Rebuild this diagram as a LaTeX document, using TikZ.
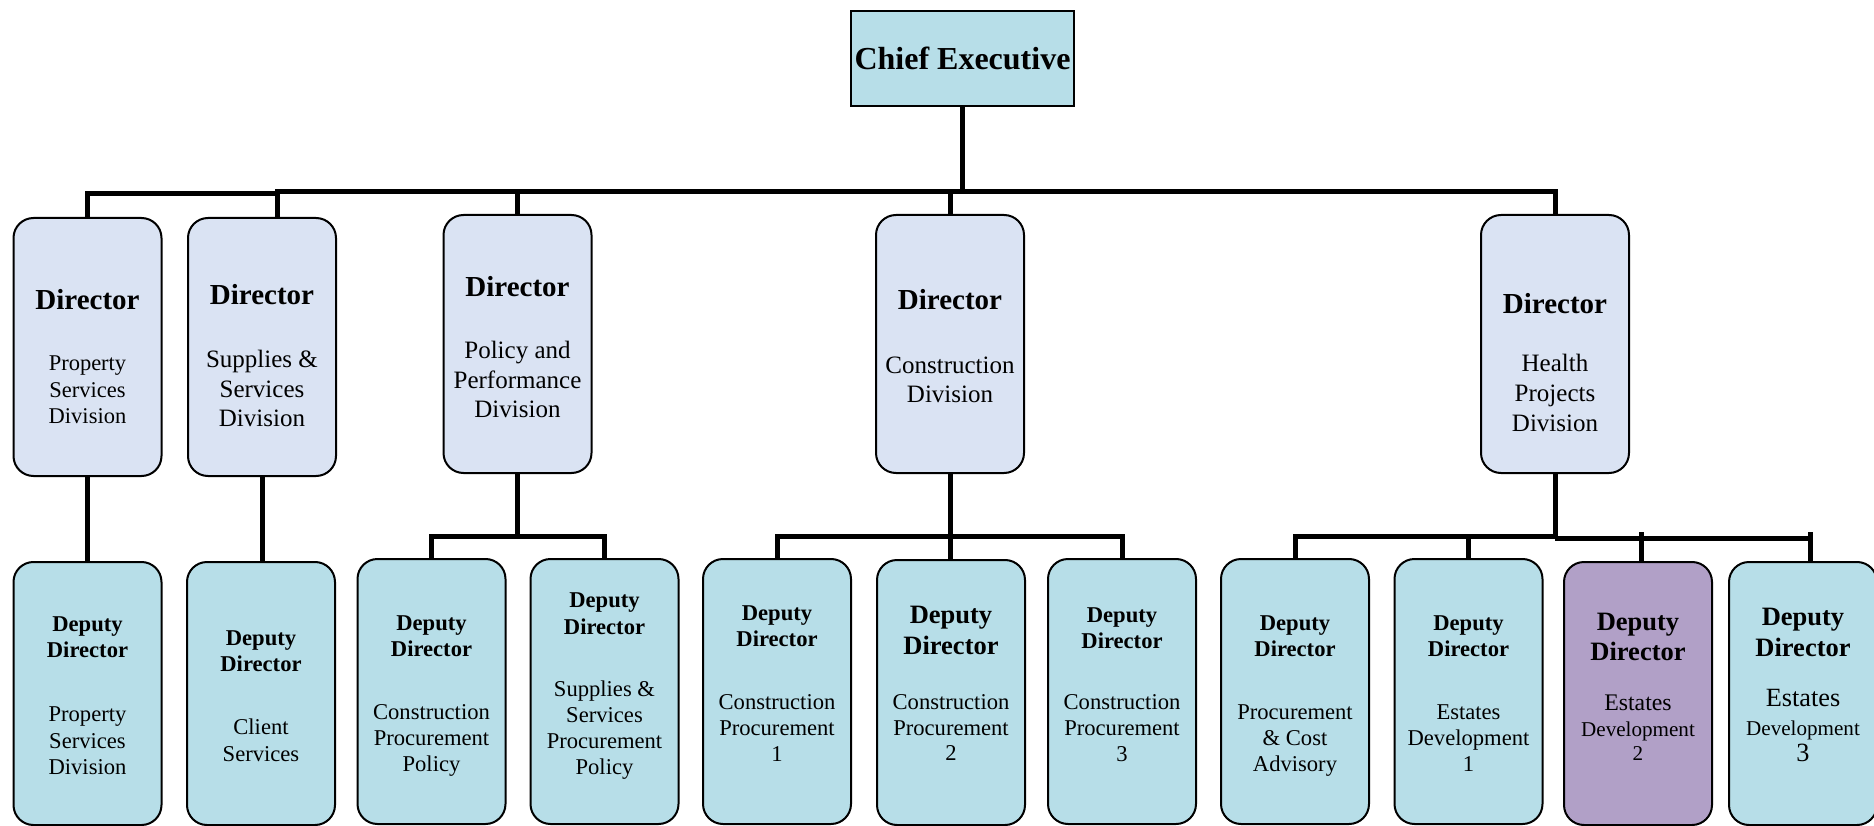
\documentclass[tikz,border=0pt]{standalone}
\usepackage{fontspec}
\setmainfont{Liberation Serif}
\definecolor{dirfill}{HTML}{DAE3F3}
\definecolor{depfill}{HTML}{B7DEE8}
\definecolor{purfill}{HTML}{B1A0C7}
\newcommand\fChief{\fontsize{32}{36}\selectfont\bfseries}
\newcommand\fDir{\fontsize{29}{33}\selectfont\bfseries}
\newcommand\fDiv{\fontsize{25}{29}\selectfont}
\newcommand\fDivS{\fontsize{22.5}{26}\selectfont}
\newcommand\fDep{\fontsize{22.6}{26}\selectfont\bfseries}
\newcommand\fDepB{\fontsize{26.5}{30}\selectfont\bfseries}
\newcommand\fSub{\fontsize{22.6}{26}\selectfont}
\newcommand\fSubE{\fontsize{23.8}{27}\selectfont}
\newcommand\fSubEB{\fontsize{26.3}{30}\selectfont}
\newcommand\fSubD{\fontsize{21.1}{25}\selectfont}
\newcommand\linesat[6]{\foreach \mytx [count=\myi] in {#6}{\node[lbl,font=#5] (#1-\myi) at (#2,{#3+(\myi-1)*#4}) {\mytx};}}
\newcommand\linesatT[6]{\foreach \mytx [count=\myi] in {#6}{\node[lblT,font=#5] (#1-\myi) at (#2,{#3+(\myi-1)*#4}) {\mytx};}}
\newcommand\oneline[5]{\node[lbl,font=#4] (#1) at (#2,#3) {#5};}
\tikzset{
  chiefbox/.style={draw=black, line width=2pt, fill=depfill, minimum width=223pt, minimum height=95pt, inner sep=0pt, font=\fChief},
  dirbox/.style={draw=black, line width=2pt, rounded corners=20pt, fill=dirfill, minimum width=148pt, minimum height=258pt, inner sep=0pt},
  depbox/.style={draw=black, line width=2pt, rounded corners=20pt, fill=depfill, minimum width=148pt, minimum height=264pt, inner sep=0pt},
  lbl/.style={inner sep=0pt, text height=0.5em, text depth=0pt, yshift=-6pt},
  lblT/.style={inner sep=0pt, text height=0.5em, text depth=0pt, yshift=-4pt},
  conn/.style={draw=black, line width=5pt, line join=miter}
}
\begin{document}
\begin{tikzpicture}[x=1pt,y=-1pt]
\useasboundingbox (0,0) rectangle (1874,826);
\fill[white] (0,0) rectangle (1874,826);
\clip (0,0) rectangle (1874,826);

% boxes
\node[chiefbox] (ce) at (962.5,58.5) {Chief Executive};

\node[dirbox] (dir1) at (87.5,347) {};
\node[dirbox] (dir2) at (262,347) {};
\node[dirbox] (dir3) at (517.5,344) {};
\node[dirbox] (dir4) at (950,344) {};
\node[dirbox] (dir5) at (1555,344) {};

\node[depbox,minimum height=263pt] (dep1) at (87.5,693.5) {};
\node[depbox,minimum height=263pt] (dep2) at (261,693.5) {};
\node[depbox,minimum height=265pt] (dep3) at (431.5,691.5) {};
\node[depbox,minimum height=265pt] (dep4) at (604.5,691.5) {};
\node[depbox,minimum height=265pt] (dep5) at (777,691.5) {};
\node[depbox,minimum height=265pt] (dep6) at (951,692.5) {};
\node[depbox,minimum height=265pt] (dep7) at (1122,691.5) {};
\node[depbox,minimum height=265pt] (dep8) at (1295,691.5) {};
\node[depbox,minimum height=265pt] (dep9) at (1468.5,691.5) {};
\node[depbox,minimum height=263pt,fill=purfill] (dep10) at (1638,693.5) {};
\node[depbox,minimum height=263pt] (dep11) at (1803,693.5) {};

% director texts
\oneline{t1}{87.5}{301}{\fDir}{Director}
\linesat{s1}{87.5}{362}{26.5}{\fDivS}{Property,Services,Division}
\oneline{t2}{262}{296}{\fDir}{Director}
\linesat{s2}{262}{359}{29.5}{\fDiv}{Supplies \&,Services,Division}
\oneline{t3}{517.5}{288}{\fDir}{Director}
\linesat{s3}{517.5}{350}{29.5}{\fDiv}{Policy and,Performance,Division}
\oneline{t4}{950}{301}{\fDir}{Director}
\linesat{s4}{950}{364.5}{29}{\fDiv}{Construction,Division}
\oneline{t5}{1555}{305}{\fDir}{Director}
\linesat{s5}{1555}{363}{30}{\fDiv}{Health,Projects,Division}

% deputy texts
\linesatT{u1}{87.5}{624.5}{26.5}{\fDep}{Deputy,Director}
\linesat{v1}{87.5}{713}{26.5}{\fSub}{Property,Services,Division}
\linesatT{u2}{261}{638.5}{26.5}{\fDep}{Deputy,Director}
\linesat{v2}{261}{726}{27}{\fSub}{Client,Services}
\linesatT{u3}{431.5}{623.5}{26.5}{\fDep}{Deputy,Director}
\linesat{v3}{431.5}{710.5}{26.3}{\fSub}{Construction,Procurement,Policy}
\linesatT{u4}{604.5}{601}{26.5}{\fDep}{Deputy,Director}
\linesat{v4}{604.5}{687.5}{26.2}{\fSub}{Supplies \&,Services,Procurement,Policy}
\linesatT{u5}{777}{613.5}{26.5}{\fDep}{Deputy,Director}
\linesat{v5}{777}{701}{26}{\fSub}{Construction,Procurement,1}
\linesatT{u6}{951}{617}{30.5}{\fDepB}{Deputy,Director}
\linesat{v6}{951}{701}{25.5}{\fSub}{Construction,Procurement,2}
\linesatT{u7}{1122}{615.5}{26.5}{\fDep}{Deputy,Director}
\linesat{v7}{1122}{700.5}{26}{\fSub}{Construction,Procurement,3}
\linesatT{u8}{1295}{623.5}{26.5}{\fDep}{Deputy,Director}
\linesat{v8}{1295}{710.5}{26.3}{\fSub}{Procurement,\& Cost,Advisory}
\linesatT{u9}{1468.5}{623.5}{26.5}{\fDep}{Deputy,Director}
\linesat{v9}{1468.5}{711}{26}{\fSub}{Estates,Development,1}
\linesatT{u10}{1638}{623.5}{30.5}{\fDepB}{Deputy,Director}
\oneline{v10-1}{1638}{702}{\fSubE}{Estates}
\oneline{v10-2}{1638}{727.5}{\fSubD}{Development}
\oneline{v10-3}{1638}{752}{\fSubD}{2}
\linesatT{u11}{1803}{619}{30.5}{\fDepB}{Deputy,Director}
\oneline{v11-1}{1803}{698}{\fSubEB}{Estates}
\oneline{v11-2}{1803}{726.5}{\fSubD}{Development}
\oneline{v11-3}{1803}{753}{\fSubEB}{3}

% connectors
\coordinate (tb) at (0,192);
\coordinate (tbl) at (0,193.5);
\coordinate (dir2in) at ([xshift=15pt]dir2.north);
\draw[conn] (ce.south) -- (ce.south |- tb);
\draw[conn] (dir1.north) |- (dir2in |- tbl);
\draw[conn] (dir2in) -- (dir2in |- tb) -- (dir5.north |- tb) -- (dir5.north);
\draw[conn] (dir3.north) -- (dir3.north |- tb);
\draw[conn] (dir4.north) -- (dir4.north |- tb);

\draw[conn] (dir1.south) -- (dir1.south |- dep1.north);
\draw[conn] (dir2.south) -- (dir2.south |- dep2.north);

\coordinate (b3) at (0,536.5);
\draw[conn] (dir3.south) -- (dir3.south |- b3);
\draw[conn] (dep3.north) |- (dep4.north |- b3) -- (dep4.north);

\coordinate (b4) at (0,536);
\draw[conn] (dep5.north) |- (dep7.north |- b4) -- (dep7.north);
\draw[conn] (dir4.south) -- (dir4.south |- dep6.north);

\coordinate (b5l) at (0,536);
\coordinate (b5r) at (0,538.5);
\coordinate (tk) at (0,532);
\coordinate (d10in) at ([xshift=3pt]dep10.north);
\coordinate (d11in) at ([xshift=7pt]dep11.north);
\draw[conn] (dir5.south) -- (dir5.south |- b5r);
\draw[conn] (dep8.north) |- (dir5.south |- b5l);
\draw[conn] (dep9.north |- b5l) -- (dep9.north);
\draw[conn] (dir5.south |- b5r) -- (d11in |- b5r);
\draw[conn] (d10in |- tk) -- (d10in);
\draw[conn] (d11in |- tk) -- (d11in);
\end{tikzpicture}
\end{document}
